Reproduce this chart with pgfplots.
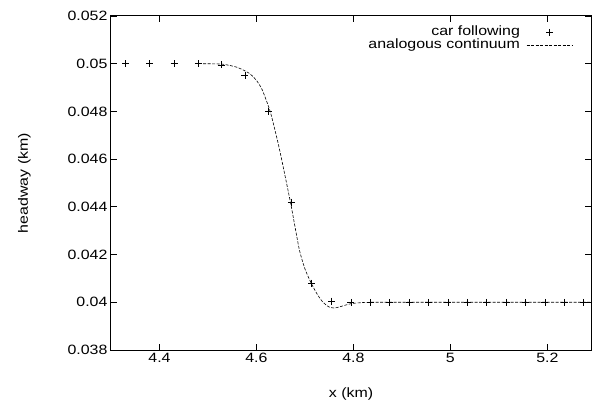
\documentclass[border=0pt]{standalone}
\usepackage{fontspec}
\setmainfont{Liberation Sans}[FakeStretch=1.18]
\usepackage{pgfplots}
\pgfplotsset{compat=1.18}
\pgfplotsset{
  plusleg/.style={legend image code/.code={\draw[##1] plot coordinates {(23pt,0pt)};}},
  lineleg/.style={legend image code/.code={\draw[##1] (0pt,0pt) -- (46pt,0pt);}},
}
\newcommand\myfont{\fontsize{13.5}{15}\selectfont}
\begin{document}
\begin{tikzpicture}[font=\myfont]
\begin{axis}[
  scale only axis,
  width=480pt, height=334pt,
  xmin=4.3, xmax=5.29,
  ymin=0.038, ymax=0.052,
  xtick={4.4,4.6,4.8,5,5.2},
  ytick={0.038,0.040,0.042,0.044,0.046,0.048,0.050,0.052},
  scaled y ticks=false, scaled x ticks=false,
  yticklabel style={/pgf/number format/fixed,/pgf/number format/precision=3},
  xticklabel style={/pgf/number format/fixed,/pgf/number format/precision=1},
  tick label style={font=\myfont},
  label style={font=\myfont},
  /pgf/number format/assume math mode=true,
  tick pos=both, major tick length=6pt,
  tick style={black, line width=0.8pt},
  axis line style={line width=1pt},
  xlabel={x (km)}, ylabel={headway (km)},
  xlabel style={yshift=-18pt},
  ylabel style={yshift=30pt},
  legend plot pos=right,
  legend cell align=right,
  legend style={draw=none, fill=none, at={(rel axis cs:0.965,0.97)}, anchor=north east,
    font=\myfont, row sep=2.5pt, column sep=6pt, inner sep=1pt,
    nodes={inner sep=0.5pt, text depth=0.25ex, text height=1.5ex}},
]
\addplot[only marks, mark=+, mark size=3.5pt, black, mark options={line width=0.6pt}, plusleg] coordinates {
(4.33,0.05) (4.38,0.05) (4.43,0.05) (4.48,0.05) (4.527,0.04995) (4.576,0.0495)
(4.625,0.0480) (4.672,0.0442) (4.714,0.0408) (4.755,0.04005) (4.795,0.04)
(4.835,0.04) (4.875,0.04) (4.915,0.04) (4.955,0.04) (4.995,0.04) (5.035,0.04)
(5.075,0.04) (5.115,0.04) (5.155,0.04) (5.195,0.04) (5.235,0.04) (5.275,0.04)
};
\addlegendentry{car following}
\addplot[black, line width=0.6pt, dash pattern=on 3pt off 1.5pt, smooth, tension=0.4, lineleg] coordinates {
(4.49,0.05) (4.53,0.04998) (4.56,0.04985) (4.585,0.0496) (4.60,0.0493)
(4.612,0.0489) (4.629,0.04795) (4.646,0.04655) (4.66,0.0452) (4.672,0.0440)
(4.688,0.04225) (4.70,0.0414) (4.713,0.0408) (4.725,0.04035) (4.736,0.04003)
(4.749,0.03981) (4.76,0.03976) (4.77,0.03980) (4.785,0.03989) (4.797,0.03995)
(4.82,0.03999) (4.84,0.04) (5.0,0.04) (5.29,0.04)
};
\addlegendentry{analogous continuum}
\end{axis}
\path (current axis.south west) +(-111pt,-55pt) (current axis.north east) +(7pt,16pt);
\end{tikzpicture}
\end{document}
